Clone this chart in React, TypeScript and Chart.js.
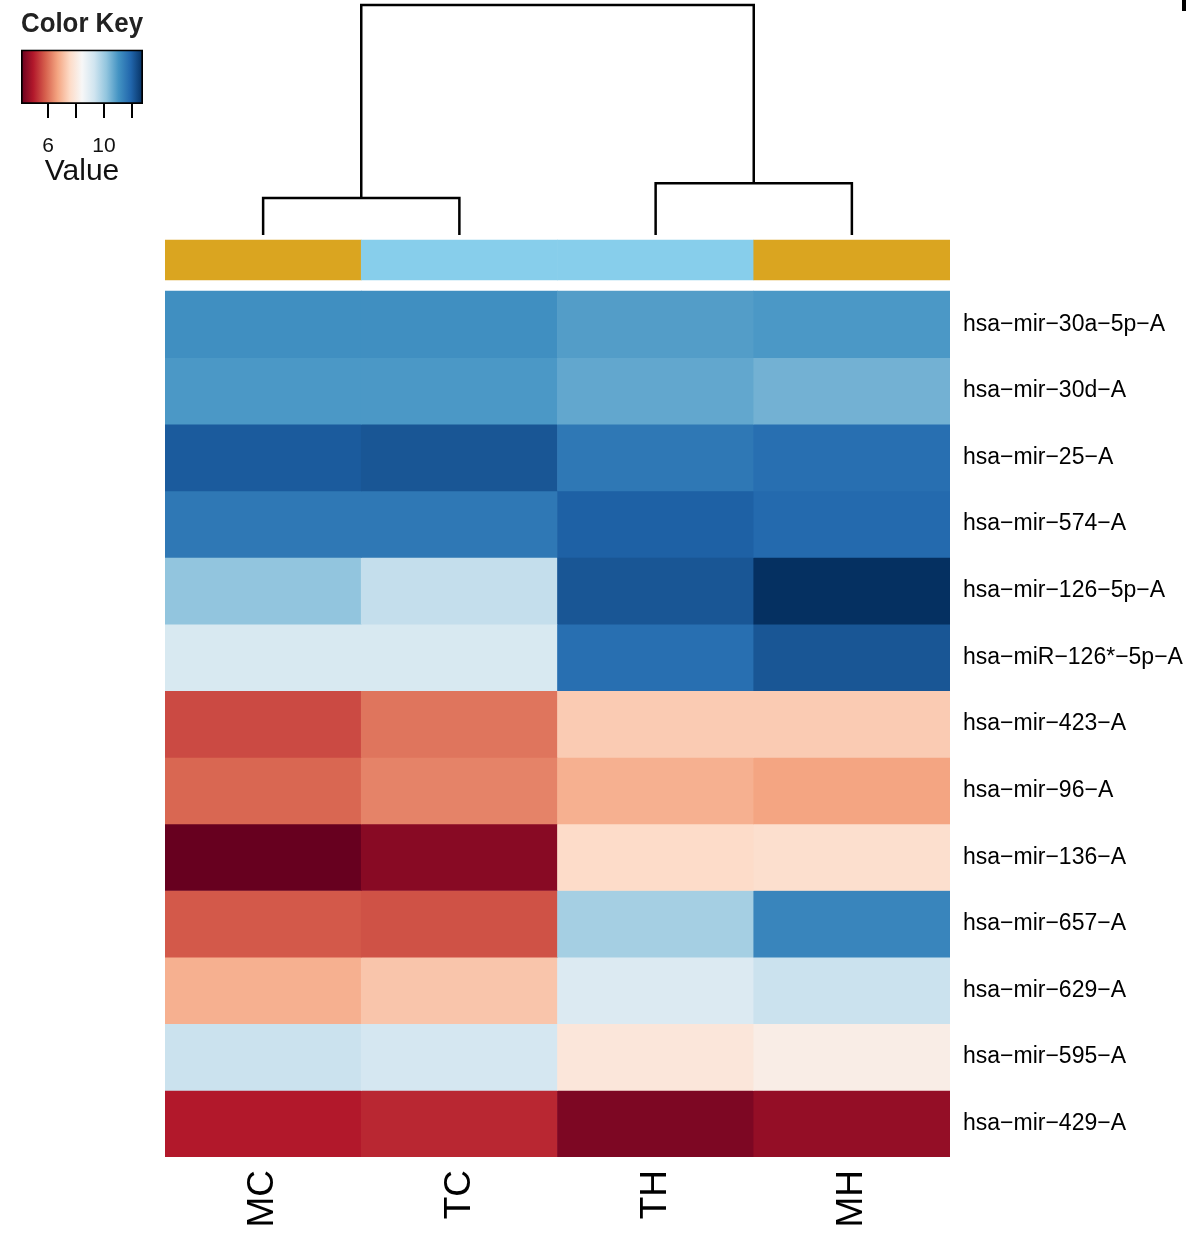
import React, { useEffect, useRef } from "react";
import { Chart, registerables } from "chart.js";

Chart.register(...registerables);

// ---------- data ----------
const COLUMNS = ["MC", "TC", "TH", "MH"];
const COLUMN_GROUPS = ["M", "T", "T", "M"];
const GROUP_COLORS: Record<string, string> = { M: "#DAA520", T: "#87CEEB" };

const ROWS = [
  "hsa\u2212mir\u221230a\u22125p\u2212A",
  "hsa\u2212mir\u221230d\u2212A",
  "hsa\u2212mir\u221225\u2212A",
  "hsa\u2212mir\u2212574\u2212A",
  "hsa\u2212mir\u2212126\u22125p\u2212A",
  "hsa\u2212miR\u2212126*\u22125p\u2212A",
  "hsa\u2212mir\u2212423\u2212A",
  "hsa\u2212mir\u221296\u2212A",
  "hsa\u2212mir\u2212136\u2212A",
  "hsa\u2212mir\u2212657\u2212A",
  "hsa\u2212mir\u2212629\u2212A",
  "hsa\u2212mir\u2212595\u2212A",
  "hsa\u2212mir\u2212429\u2212A",
];

const MC_VALUES = [11.13, 10.96, 12.09, 11.57, 10.17, 9.13, 5.55, 5.9, 4.07, 5.73, 6.86, 9.39, 4.94];
const TC_VALUES = [11.13, 10.96, 12.18, 11.57, 9.48, 9.13, 6.08, 6.25, 4.45, 5.64, 7.21, 9.21, 5.12];
const TH_VALUES = [10.87, 10.7, 11.57, 12.0, 12.18, 11.74, 7.3, 6.86, 7.6, 9.91, 9.04, 7.9, 4.33];
const MH_VALUES = [10.96, 10.52, 11.74, 11.85, 12.79, 12.18, 7.3, 6.69, 7.68, 11.31, 9.39, 8.12, 4.59];
const COLUMN_VALUES = [MC_VALUES, TC_VALUES, TH_VALUES, MH_VALUES];

// dendrogram merge heights (columns)
const MERGE_MC_TC = 1.61;
const MERGE_TH_MH = 2.25;
const MERGE_ROOT = 10;

// color key
const KEY_MIN = 4.07;
const KEY_MAX = 12.79;
const KEY_TICKS = [6, 8, 10, 12];
const KEY_TICK_LABELS = ["6", "", "10", ""];

const RDBU = [
  "#67001f", "#b2182b", "#d6604d", "#f4a582", "#fddbc7", "#f7f7f7",
  "#d1e5f0", "#92c5de", "#4393c3", "#2166ac", "#053061",
];

const FONT = "'Liberation Sans', Arial, Helvetica, sans-serif";

function hexToRgb(h: string) {
  const n = parseInt(h.slice(1), 16);
  return [(n >> 16) & 255, (n >> 8) & 255, n & 255];
}

function valueColor(v: number) {
  let t = (v - KEY_MIN) / (KEY_MAX - KEY_MIN);
  t = Math.max(0, Math.min(1, t));
  const pos = t * (RDBU.length - 1);
  const i = Math.min(RDBU.length - 2, Math.floor(pos));
  const f = pos - i;
  const a = hexToRgb(RDBU[i]);
  const b = hexToRgb(RDBU[i + 1]);
  const c = a.map((x, k) => Math.round(x + (b[k] - x) * f));
  return `rgb(${c[0]},${c[1]},${c[2]})`;
}

// layout (row units / dendrogram units)
const Y_MAX = 17.293;
const SIDEBAR_LO = 13.165;
const SIDEBAR_HI = 13.766;
const YD_MIN = -40.09;

function HeatmapChart() {
  const ref = useRef<HTMLCanvasElement>(null);
  useEffect(() => {
    if (!ref.current) return;
    const n = ROWS.length;
    const heatSets: any[] = ROWS.map((row, i) => ({
      type: "bar",
      label: row,
      data: COLUMNS.map((_, j) => ({ x: j, y: [n - i - 1, n - i] })),
      backgroundColor: COLUMNS.map((_, j) => valueColor(COLUMN_VALUES[j][i])),
      borderWidth: 0,
      grouped: false,
      barPercentage: 1,
      categoryPercentage: 1,
      xAxisID: "x",
      yAxisID: "y",
    }));
    const sideSet: any = {
      type: "bar",
      label: "groups",
      data: COLUMNS.map((_, j) => ({ x: j, y: [SIDEBAR_LO, SIDEBAR_HI] })),
      backgroundColor: COLUMN_GROUPS.map((g) => GROUP_COLORS[g]),
      borderWidth: 0,
      grouped: false,
      barPercentage: 1,
      categoryPercentage: 1,
      xAxisID: "x",
      yAxisID: "y",
    };
    const lineBase = {
      type: "line",
      borderColor: "#000",
      borderWidth: 2.5,
      pointRadius: 0,
      fill: false,
      tension: 0,
      clip: false,
      xAxisID: "x",
      yAxisID: "yd",
    };
    const dendro: any[] = [
      {
        ...lineBase,
        label: "MC-TC",
        data: [
          { x: 0, y: 0 }, { x: 0, y: MERGE_MC_TC },
          { x: 1, y: MERGE_MC_TC }, { x: 1, y: 0 },
        ],
      },
      {
        ...lineBase,
        label: "TH-MH",
        data: [
          { x: 2, y: 0 }, { x: 2, y: MERGE_TH_MH },
          { x: 3, y: MERGE_TH_MH }, { x: 3, y: 0 },
        ],
      },
      {
        ...lineBase,
        label: "root",
        data: [
          { x: 0.5, y: MERGE_MC_TC }, { x: 0.5, y: MERGE_ROOT },
          { x: 2.5, y: MERGE_ROOT }, { x: 2.5, y: MERGE_TH_MH },
        ],
      },
    ];

    const chart = new Chart(ref.current, {
      type: "bar",
      data: { datasets: [...heatSets, sideSet, ...dendro] },
      options: {
        animation: false,
        responsive: false,
        events: [],
        layout: { padding: { left: 165, top: 5, right: 0, bottom: 0 } },
        plugins: { legend: { display: false }, tooltip: { enabled: false } },
        scales: {
          x: {
            type: "linear",
            min: -0.5,
            max: 3.5,
            offset: false,
            position: "bottom",
            afterBuildTicks: (a: any) => {
              a.ticks = COLUMNS.map((_, j) => ({ value: j }));
            },
            afterFit: (a: any) => {
              a.height = 76;
              a.paddingLeft = 0;
              a.paddingRight = 0;
              a.paddingTop = 0;
              a.paddingBottom = 0;
            },
            ticks: {
              autoSkip: false,
              minRotation: 90,
              maxRotation: 90,
              padding: 13,
              color: "#000",
              font: { family: FONT, size: 37 },
              callback: (v: any) => COLUMNS[Math.round(Number(v))] ?? "",
            },
            grid: { display: false, drawTicks: false },
            border: { display: false },
          },
          y: {
            type: "linear",
            min: 0,
            max: Y_MAX,
            position: "right",
            afterBuildTicks: (a: any) => {
              a.ticks = ROWS.map((_, i) => ({ value: ROWS.length - i - 0.5 }));
            },
            afterFit: (a: any) => {
              a.width = 236;
              a.paddingTop = 0;
              a.paddingBottom = 0;
              a.paddingLeft = 0;
              a.paddingRight = 0;
            },
            ticks: {
              autoSkip: false,
              padding: 13,
              color: "#000",
              font: { family: FONT, size: 23 },
              callback: (v: any) => ROWS[Math.round(ROWS.length - 0.5 - Number(v))] ?? "",
            },
            grid: { display: false, drawTicks: false },
            border: { display: false },
          },
          yd: {
            type: "linear",
            min: YD_MIN,
            max: MERGE_ROOT,
            display: false,
          },
        },
      } as any,
    });
    return () => chart.destroy();
  }, []);
  return <canvas ref={ref} width={1186} height={1233} style={{ position: "absolute", left: 0, top: 0 }} />;
}

function ColorKey() {
  const ref = useRef<HTMLCanvasElement>(null);
  useEffect(() => {
    if (!ref.current) return;
    const chart = new Chart(ref.current, {
      type: "bar",
      data: {
        labels: ["key"],
        datasets: [
          {
            label: "Color Key",
            data: [[KEY_MIN, KEY_MAX]],
            backgroundColor: (c: any) => {
              const ch = c.chart;
              const xs = ch.scales?.x;
              if (!ch.chartArea || !xs) return "#fff";
              const g = ch.ctx.createLinearGradient(
                xs.getPixelForValue(KEY_MIN), 0, xs.getPixelForValue(KEY_MAX), 0
              );
              RDBU.forEach((col, i) => g.addColorStop(i / (RDBU.length - 1), col));
              return g;
            },
            borderColor: "#000",
            borderWidth: 2,
            borderSkipped: false,
            barPercentage: 1,
            categoryPercentage: 1,
          } as any,
        ],
      },
      options: {
        indexAxis: "y",
        animation: false,
        responsive: false,
        events: [],
        layout: { padding: { left: 21, right: 27, top: 0, bottom: 0 } },
        plugins: {
          legend: { display: false },
          tooltip: { enabled: false },
          title: {
            display: true,
            text: "Color Key",
            color: "#222",
            font: { family: FONT, size: 28, weight: "bold" },
            padding: { top: 7, bottom: 9 },
          },
        },
        scales: {
          x: {
            type: "linear",
            min: KEY_MIN,
            max: KEY_MAX,
            afterBuildTicks: (a: any) => {
              a.ticks = KEY_TICKS.map((v) => ({ value: v }));
            },
            afterFit: (a: any) => {
              a.height = 86;
            },
            ticks: {
              autoSkip: false,
              maxRotation: 0,
              padding: 16,
              color: "#111",
              font: { family: FONT, size: 21 },
              callback: (_v: any, i: number) => KEY_TICK_LABELS[i],
            },
            grid: {
              display: true,
              drawOnChartArea: false,
              drawTicks: true,
              tickLength: 14,
              color: "#000",
              lineWidth: 2,
            },
            border: { display: false },
            title: {
              display: true,
              text: "Value",
              color: "#111",
              font: { family: FONT, size: 30 },
              padding: { top: 0, bottom: 0 },
            },
          },
          y: { display: false },
        },
      } as any,
    });
    return () => chart.destroy();
  }, []);
  return <canvas ref={ref} width={170} height={190} style={{ position: "absolute", left: 0, top: 0 }} />;
}

export default function App() {
  return (
    <div style={{ position: "absolute", left: 0, top: 0, width: 1186, height: 1233, background: "#fff" }}>
      <HeatmapChart />
      <ColorKey />
      <div style={{ position: "absolute", left: 1182, top: 0, width: 4, height: 11, background: "#000" }} />
    </div>
  );
}
